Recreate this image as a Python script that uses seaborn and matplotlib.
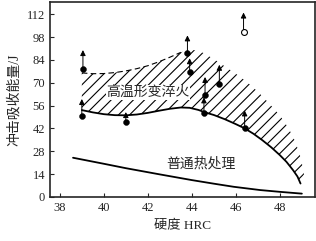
import matplotlib
matplotlib.use('Agg')
import pandas as pd
import matplotlib.pyplot as plt
import seaborn as sns

# 高温形变淬火 区域下边界
lower_x = [39.0, 39.5, 40.0, 40.5, 41.0, 41.5, 42.0, 42.5, 43.0, 43.5, 43.9, 44.3, 44.6,
           45.0, 45.5, 46.0, 46.4, 46.8, 47.2, 47.6, 48.0, 48.3, 48.6, 48.8, 48.94]
lower_y = [53.2, 51.8, 50.7, 50.1, 50.0, 50.5, 51.5, 52.8, 54.0, 54.8, 54.6, 53.3, 51.8,
           50.2, 47.6, 44.6, 42.0, 38.7, 34.8, 30.5, 25.6, 21.5, 16.4, 12.5, 8.2]

# 区域上边界
upper_x = [39.0, 39.5, 40.0, 40.5, 41.0, 41.5, 42.0, 42.5, 43.0, 43.5, 43.8, 44.1, 44.5,
           45.0, 45.5, 46.0, 46.5, 47.0, 47.5, 48.0, 48.4, 48.7, 48.95, 49.1]
upper_y = [76.0, 75.5, 75.6, 76.2, 77.2, 78.6, 80.4, 82.8, 85.6, 88.6, 89.8, 90.0, 88.4,
           84.5, 80.0, 75.5, 70.5, 64.5, 57.5, 50.0, 42.0, 34.0, 24.0, 14.0]

# 普通热处理
normal_x = [38.6, 40.0, 41.0, 42.5, 44.0, 45.0, 45.9, 47.1, 48.0, 49.0]
normal_y = [24.0, 20.3, 17.6, 13.9, 10.3, 8.1, 6.2, 4.2, 3.1, 2.0]

# 实测点 (箭头表示未断)
pts_x = [39.05, 39.0, 41.0, 43.8, 43.9, 44.6, 44.55, 45.25, 46.4]
pts_y = [78.3, 49.5, 45.6, 88.0, 76.3, 62.4, 51.2, 69.5, 42.0]
pts_top = [90.0, 60.0, 52.0, 99.0, 85.0, 73.5, 61.0, 81.0, 53.0]
open_x = [46.35]
open_y = [101.2]
open_top = [113.0]

xticks = [38, 40, 42, 44, 46, 48]
yticks = [0, 14, 28, 42, 56, 70, 84, 98, 112]

sns.set_style('ticks')
plt.rcParams['font.family'] = ['Liberation Serif', 'Noto Sans CJK SC']
plt.rcParams['hatch.linewidth'] = 0.8

fig = plt.figure(figsize=(3.16, 2.41), dpi=100)
ax = fig.add_axes([0.158, 0.183, 0.839, 0.809])

# 阴影区域
poly_x = lower_x + upper_x[::-1]
poly_y = lower_y + upper_y[::-1]
ax.fill(poly_x, poly_y, facecolor='none', edgecolor='black', hatch='///', linewidth=0)

df_low = pd.DataFrame({'x': lower_x, 'y': lower_y})
sns.lineplot(data=df_low, x='x', y='y', ax=ax, color='black', lw=1.3, sort=False)

dash_x = [x for x in upper_x if x <= 43.5]
dash_y = upper_y[:len(dash_x)]
ax.plot(dash_x, dash_y, color='black', lw=0.8, ls=(0, (5, 3)))

df_norm = pd.DataFrame({'x': normal_x, 'y': normal_y})
sns.lineplot(data=df_norm, x='x', y='y', ax=ax, color='black', lw=1.3, sort=False)

# 箭头
for x0, y0, yt in zip(pts_x + open_x, pts_y + open_y, pts_top + open_top):
    ax.annotate('', xy=(x0, yt), xytext=(x0, y0),
                arrowprops=dict(arrowstyle='-|>', color='black', lw=0.7,
                                mutation_scale=8, shrinkA=0, shrinkB=0))

sns.scatterplot(x=pts_x, y=pts_y, ax=ax, color='black', s=18, edgecolor='black', zorder=5)
sns.scatterplot(x=open_x, y=open_y, ax=ax, color='white', s=18, edgecolor='black',
                linewidth=0.8, zorder=5)

ax.text(42.0, 64, '高温形变淬火', fontsize=10, ha='center', va='center',
        bbox=dict(facecolor='white', edgecolor='none', pad=0.5))
ax.text(44.4, 20.5, '普通热处理', fontsize=10, ha='center', va='center')

ax.set_xlim(37.55, 49.6)
ax.set_ylim(0, 119.5)
ax.set_xticks(xticks)
ax.set_yticks(yticks)
ax.tick_params(direction='in', length=3, width=0.8, labelsize=9)
for s in ax.spines.values():
    s.set_linewidth(1.2)
ax.set_xlabel('硬度 HRC', fontsize=9.5, labelpad=5)
ax.set_ylabel('冲击吸收能量/J', fontsize=10, labelpad=4)

plt.savefig('out.png', dpi=100)
plt.close()
